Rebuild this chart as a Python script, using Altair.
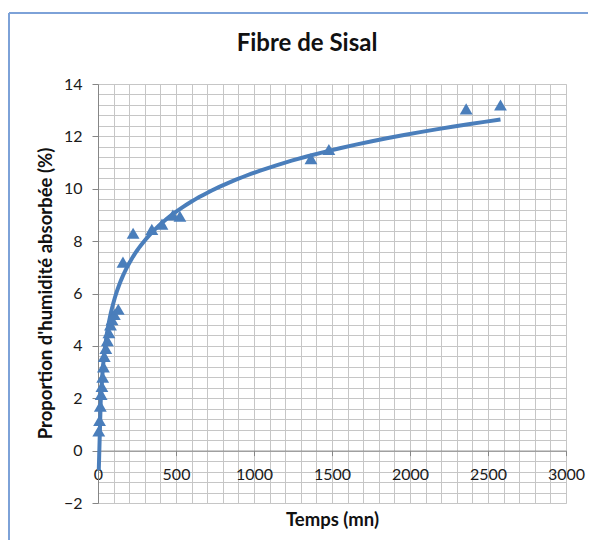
import altair as alt
import pandas as pd

# Temps (mn) and proportion d'humidité absorbée (%)
temps = [5, 10, 15, 20, 25, 30, 35, 40, 50, 60, 70, 80, 90, 105, 130,
         160, 225, 345, 410, 480, 525, 1365, 1480, 2360, 2580]
humidite = [0.75, 1.15, 1.7, 2.15, 2.45, 2.8, 3.2, 3.6, 3.9, 4.2, 4.5, 4.8, 5.0, 5.2, 5.4,
            7.2, 8.3, 8.45, 8.65, 9.0, 8.95, 11.15, 11.5, 13.05, 13.2]

x_major = [0, 500, 1000, 1500, 2000, 2500, 3000]
x_minor = list(range(0, 3001, 100))
y_major = [-2, 0, 2, 4, 6, 8, 10, 12, 14]
y_minor = [round(-2 + 0.4 * i, 1) for i in range(41)]

titre = ["Fibre de Sisal"]

df = pd.DataFrame({"t": temps, "y": humidite})
df_title = pd.DataFrame({"titre": titre})

BLUE = "#4A7EBB"
FONT = "Lato"
W, H = 468, 419

xs = alt.Scale(domain=[0, 3000], nice=False, zero=False)
ys = alt.Scale(domain=[-2, 14], nice=False, zero=False)

grid = alt.Chart(df).mark_point(opacity=0).encode(
    x=alt.X("t:Q", scale=xs, axis=alt.Axis(values=x_minor, grid=True, labels=False, ticks=False,
                                           domain=False, title=None, orient="bottom",
                                           gridColor="#C6C6C6", gridWidth=1)),
    y=alt.Y("y:Q", scale=ys, axis=alt.Axis(values=y_minor, grid=True, labels=False, ticks=False,
                                           domain=False, title=None, orient="left",
                                           gridColor="#C6C6C6", gridWidth=1)),
)

trend = alt.Chart(df).transform_regression("t", "y", method="log").mark_line(
    color=BLUE, strokeWidth=4
).encode(
    x=alt.X("t:Q", scale=xs, axis=None),
    y=alt.Y("y:Q", scale=ys, axis=None),
)

pts = alt.Chart(df).mark_point(shape="triangle-up", filled=True, opacity=1, color=BLUE, size=165).encode(
    x=alt.X("t:Q", scale=xs, axis=alt.Axis(
        values=x_major, format="d", grid=False, orient="bottom", offset=-52.4, labelFlush=False,
        domainColor="#868686", tickColor="#868686", tickSize=5, labelPadding=11,
        labelFont=FONT, labelFontSize=16, labelColor="#1a1a1a",
        title="Temps (mn)", titleFont=FONT, titleFontSize=18.5, titleFontWeight="bold",
        titleColor="#111111", titleY=69, titleBaseline="middle")),
    y=alt.Y("y:Q", scale=ys, axis=alt.Axis(
        values=y_major, format="d", grid=False, orient="left", labelFlush=False,
        domainColor="#868686", tickColor="#868686", tickSize=6, labelPadding=10,
        labelFont=FONT, labelFontSize=16, labelColor="#1a1a1a",
        title="Proportion d'humidité absorbée (%)", titleFont=FONT, titleFontSize=18.5,
        titleFontWeight="bold", titleColor="#111111", titleX=-53, titleY=209,
        titleBaseline="middle")),
)

title = alt.Chart(df_title).mark_text(
    font=FONT, fontSize=24, fontWeight="bold", color="#111111", align="center", baseline="middle"
).encode(text="titre:N", x=alt.value(209), y=alt.value(-40))

frame_top = alt.Chart(df).mark_rule(color="#7DA2D8", strokeWidth=2).encode(
    x=alt.value(-89), x2=alt.value(700), y=alt.value(-71))
frame_left = alt.Chart(df).mark_rule(color="#7DA2D8", strokeWidth=2).encode(
    x=alt.value(-89), y=alt.value(-71), y2=alt.value(600))

chart = alt.layer(grid, trend, pts, title, frame_top, frame_left).resolve_axis(
    x="independent", y="independent"
).properties(
    width=W, height=H,
    autosize=alt.AutoSizeParams(type="none"),
    padding={"left": 90, "top": 76, "right": 22, "bottom": 37},
).configure_view(stroke=None).configure(background="white")

chart.save("out.html", embed_options={"renderer": "svg", "actions": False})
